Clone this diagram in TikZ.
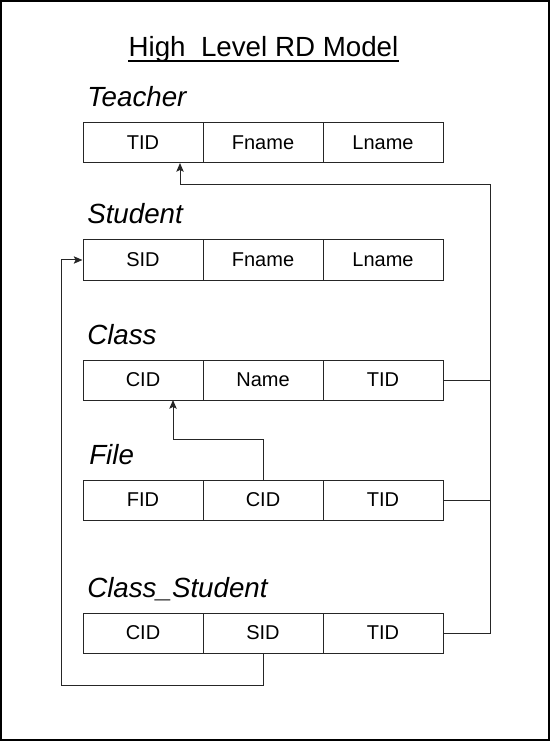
\documentclass[tikz,border=0pt]{standalone}
\usepackage{fontspec}
\setmainfont{Liberation Sans}
\usetikzlibrary{arrows.meta}
\begin{document}
\begin{tikzpicture}[x=0.75pt,y=-0.75pt,
  cell/.style={draw=black!85, line width=0.75pt, minimum width=90pt, minimum height=30pt, inner sep=0pt, font=\fontsize{15}{18}\selectfont},
  tabletitle/.style={anchor=base west, inner sep=0pt, font=\fontsize{20.8}{24}\selectfont\itshape},
  conn/.style={draw=black!85, line width=0.75pt},
  arr/.style={conn, -{Stealth[length=6.5pt,width=5.5pt,inset=1.3pt]}}]
\useasboundingbox (0,0) rectangle (550,741);
\draw[line width=1.2pt] (0.8,0.8) rectangle (549.2,740.2);
% title
\node[anchor=base, inner sep=0pt, font=\fontsize{20.8}{24}\selectfont] (title) at (263.5,57) {High\ \ Level RD Model};
\draw[line width=1.2pt] ([yshift=-2.8pt]title.base west) -- ([yshift=-2.8pt]title.base east);
% table titles
\node[tabletitle] (lt) at (87,107) {Teacher};
\node[tabletitle] (ls) at (87,224) {Student};
\node[tabletitle] (lc) at (87,344) {Class};
\node[tabletitle] (lf) at (89,464) {File};
\node[tabletitle] (lcs) at (87,597) {Class\_Student};
% Teacher
\node[cell] (t1) at (143,143) {TID};
\node[cell] (t2) at (263,143) {Fname};
\node[cell] (t3) at (383,143) {Lname};
% Student
\node[cell] (s1) at (143,260) {SID};
\node[cell] (s2) at (263,260) {Fname};
\node[cell] (s3) at (383,260) {Lname};
% Class
\node[cell] (c1) at (143,380) {CID};
\node[cell] (c2) at (263,380) {Name};
\node[cell] (c3) at (383,380) {TID};
% File
\node[cell] (f1) at (143,500) {FID};
\node[cell] (f2) at (263,500) {CID};
\node[cell] (f3) at (383,500) {TID};
% Class_Student
\node[cell] (cs1) at (143,633) {CID};
\node[cell] (cs2) at (263,633) {SID};
\node[cell] (cs3) at (383,633) {TID};
% coordinates
\coordinate (rt) at (490,185);
\coordinate (tin) at (180,163);
\coordinate (cin) at (173,400);
\coordinate (lft) at (61,685);
% connectors
\draw[arr] (cs3.east) -| (rt) -| (tin);
\draw[conn] (c3.east) -- (c3.east -| rt);
\draw[conn] (f3.east) -- (f3.east -| rt);
\draw[arr] (f2.north) -- ++(0,-40) -| (cin);
\draw[arr] (cs2.south) |- (lft) |- (s1.west);
\end{tikzpicture}
\end{document}
